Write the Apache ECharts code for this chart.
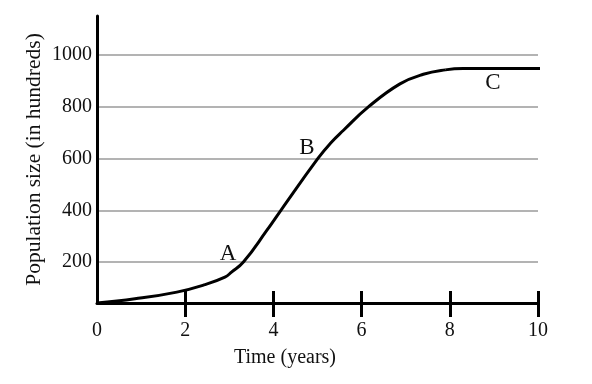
<!DOCTYPE html>
<html>
<head>
<meta charset="utf-8">
<script src="https://cdn.jsdelivr.net/npm/echarts@6/dist/echarts.min.js"></script>
<style>html,body{margin:0;padding:0;background:#fff;}#c{width:592px;height:384px;}</style>
</head>
<body>
<div id="c"></div>
<script>
// Data
var timeYears = [0, 0.86, 1.81, 2.45, 2.90, 3.05, 3.32, 3.85, 4.17, 5.01, 5.30, 5.59, 6.16, 6.87, 7.40, 7.90, 8.30, 10.68];
var population = [42, 58, 84, 113, 142, 161, 200, 322, 400, 600, 660, 709, 800, 888, 925, 942, 947, 947];
var xTickValues = [2, 4, 6, 8, 10];
var xLabelValues = [0, 2, 4, 6, 8, 10];
var yLabelValues = [200, 400, 600, 800, 1000];
var pointNames = ['A', 'B', 'C'];
var pointTimes = [2.97, 4.76, 8.98];
var pointValues = [230, 639, 891];

var FONT = 'Liberation Serif';
var INK = '#111';

var chart = echarts.init(document.getElementById('c'), null, {renderer: 'canvas'});
var seriesData = timeYears.map(function (t, i) { return [t, population[i]]; });
var marks = pointNames.map(function (n, i) {
  return {name: n, coord: [pointTimes[i], pointValues[i]], value: n};
});

chart.setOption({
  animation: false,
  backgroundColor: '#fff',
  grid: {left: 97, right: 54, top: 16, bottom: 81},
  xAxis: [{
    type: 'value', min: 0, max: 10, position: 'bottom',
    name: 'Time (years)', nameLocation: 'middle', nameGap: 45,
    nameTextStyle: {fontFamily: FONT, fontSize: 20, color: INK, padding: [0, 65, 0, 0]},
    axisLine: {show: true, onZero: false, lineStyle: {color: '#000', width: 3}},
    axisTick: {show: true, customValues: xTickValues, length: 14, lineStyle: {color: '#000', width: 3}},
    axisLabel: {show: true, customValues: xLabelValues, margin: 18, fontFamily: FONT, fontSize: 20, color: INK},
    splitLine: {show: false}
  }, {
    type: 'value', min: 0, max: 10, position: 'bottom', offset: 0,
    axisLine: {show: false},
    axisTick: {show: true, inside: true, customValues: xTickValues, length: 12, lineStyle: {color: '#000', width: 3}},
    axisLabel: {show: false},
    splitLine: {show: false}
  }],
  yAxis: {
    type: 'value', min: 42, max: 1150,
    name: 'Population size (in hundreds)', nameLocation: 'middle', nameGap: 52,
    nameMoveOverlap: false,
    nameTextStyle: {fontFamily: FONT, fontSize: 21.5, color: INK},
    axisLine: {show: true, onZero: false, lineStyle: {color: '#000', width: 3}},
    axisTick: {show: false, customValues: yLabelValues},
    axisLabel: {show: true, customValues: yLabelValues, margin: 5, fontFamily: FONT, fontSize: 20, color: INK,
      formatter: function (v) { return String(v); }},
    splitLine: {show: true, lineStyle: {color: '#9a9a9a', width: 1.5}}
  },
  series: [{
    type: 'line',
    xAxisIndex: 0,
    data: seriesData,
    showSymbol: false,
    symbol: 'none',
    smooth: 0.45,
    clip: false,
    lineStyle: {color: '#000', width: 3},
    markPoint: {
      symbol: 'circle', symbolSize: 1,
      itemStyle: {color: 'rgba(0,0,0,0)'},
      label: {show: true, position: 'inside', formatter: '{b}', fontFamily: FONT, fontSize: 23, color: INK},
      data: marks
    }
  }]
});
</script>
</body>
</html>
